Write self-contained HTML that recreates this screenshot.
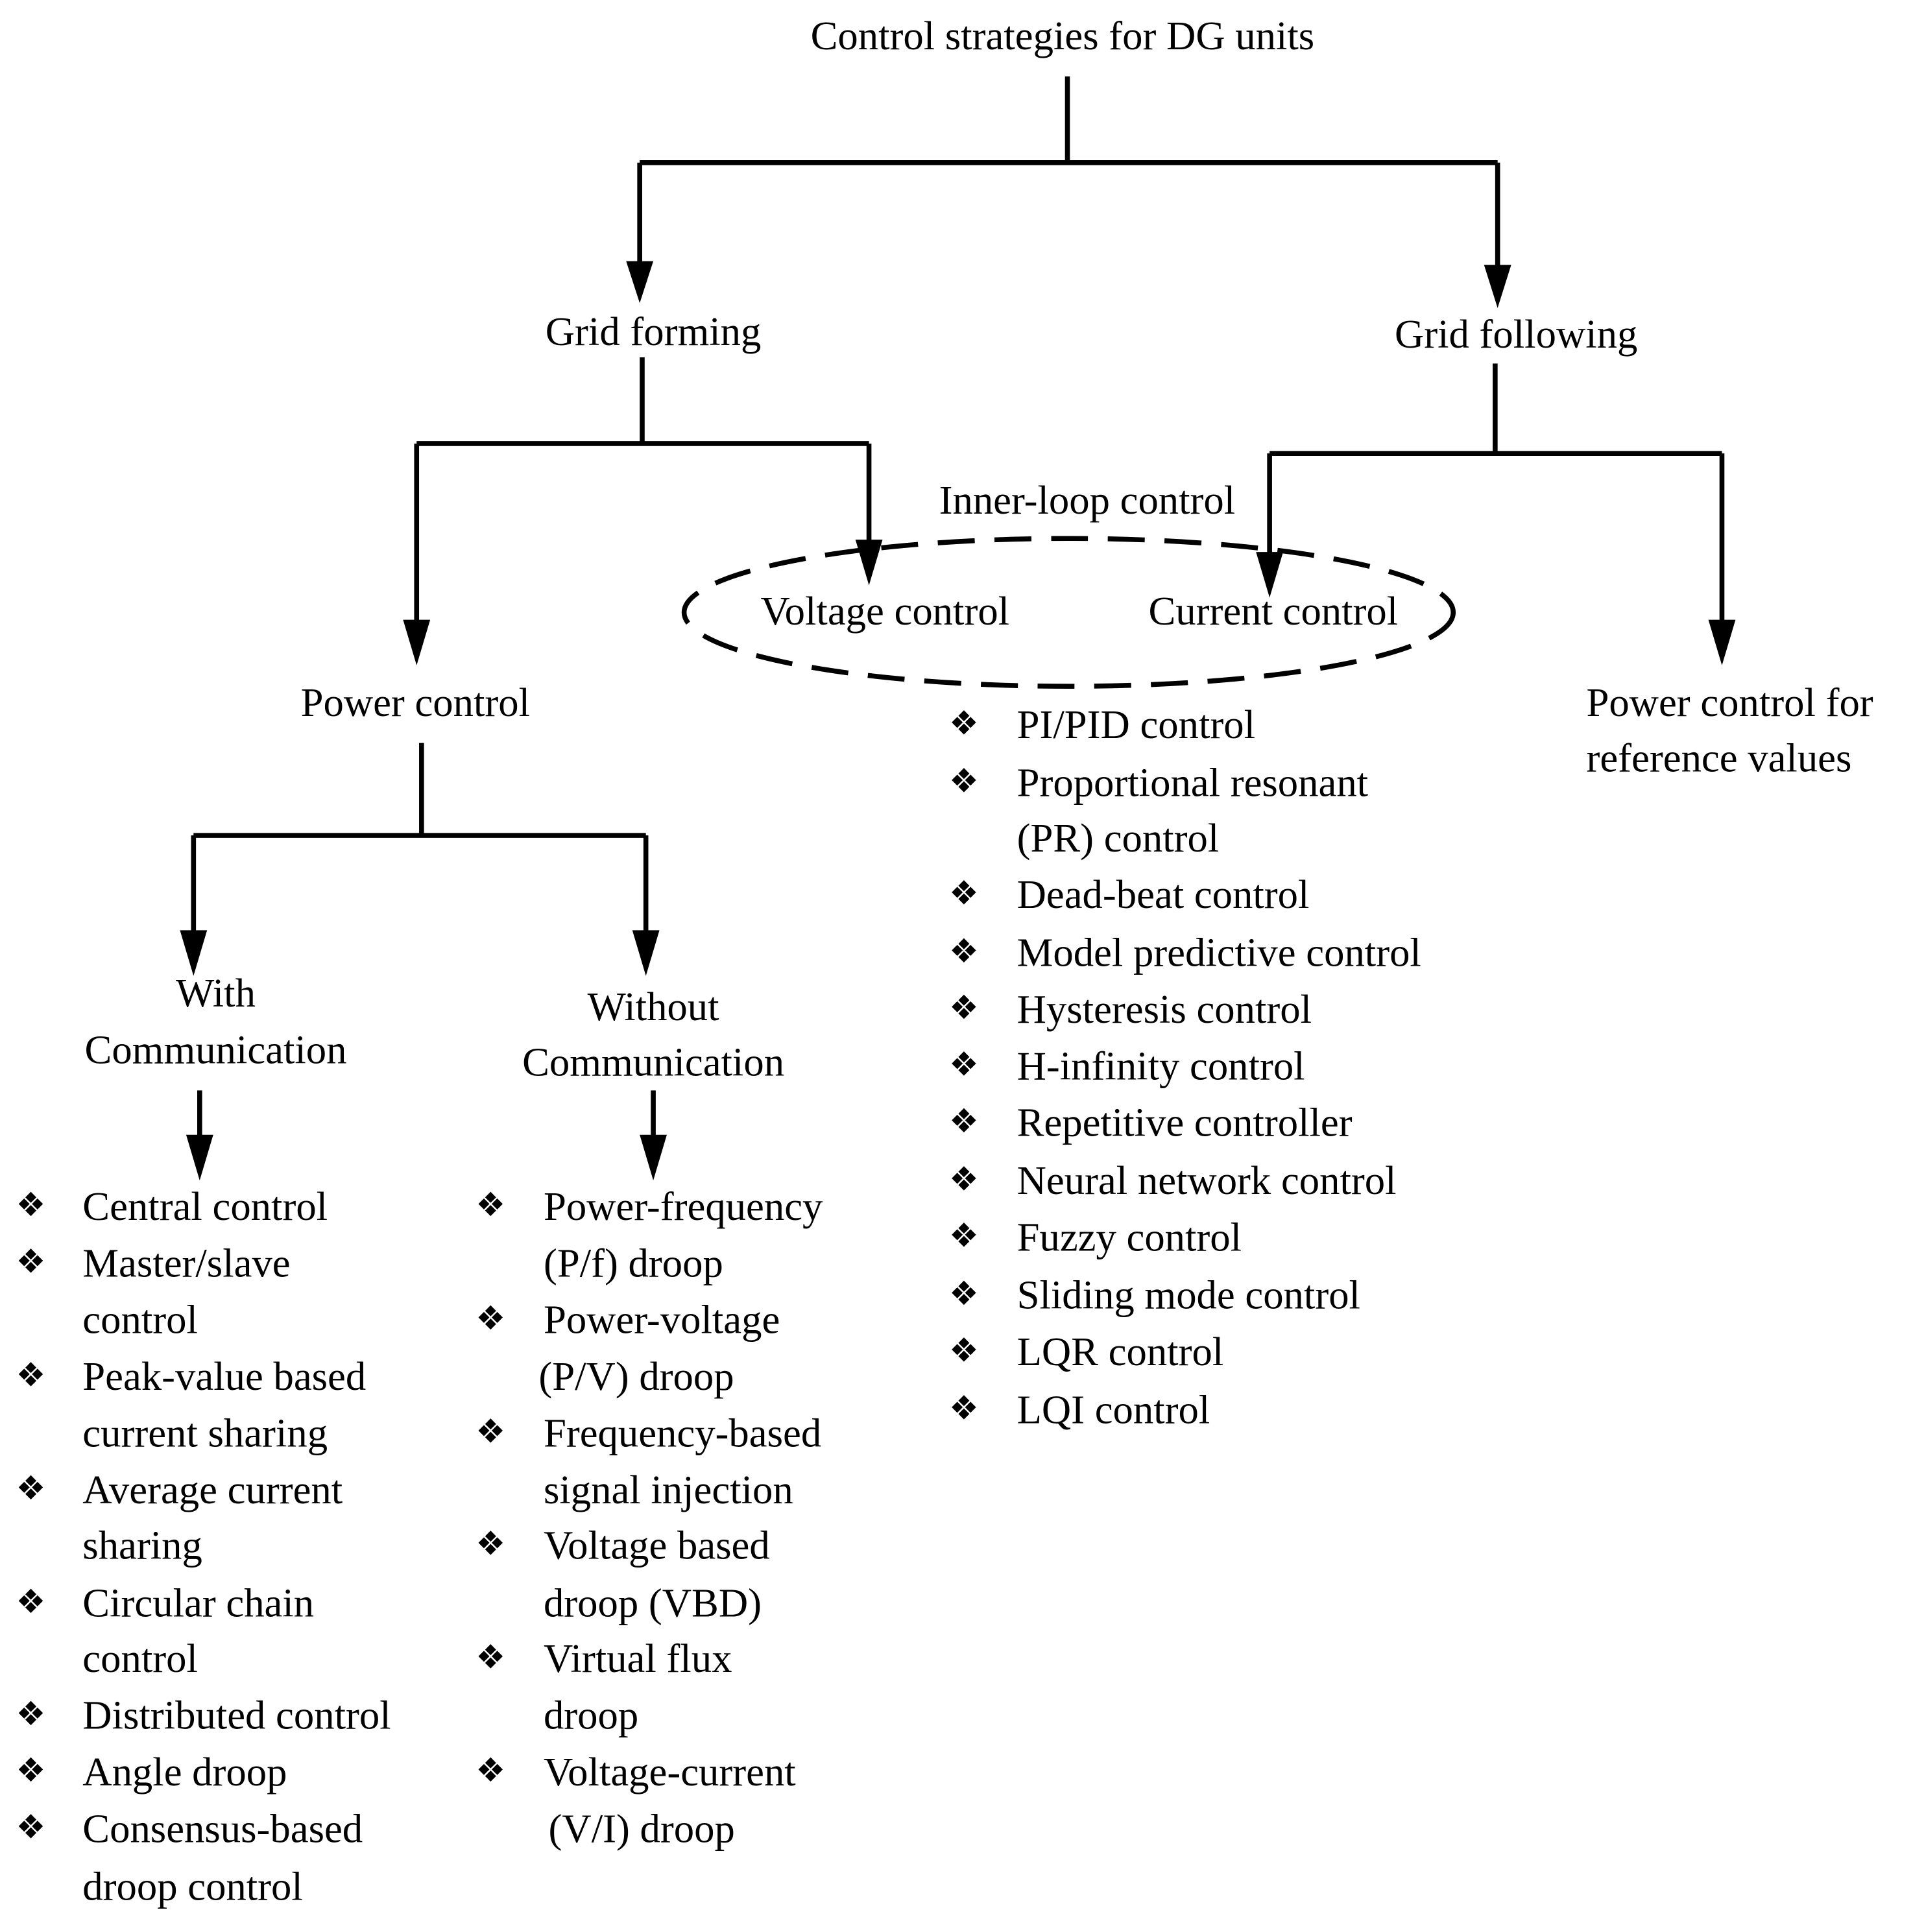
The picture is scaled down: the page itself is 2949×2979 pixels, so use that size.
<!DOCTYPE html>
<html><head><meta charset="utf-8"><style>
html,body{margin:0;padding:0;background:#fff}
svg{display:block}
text{font-family:"Liberation Serif",serif;font-size:33px;fill:#000}
.b{font-family:"DejaVu Sans",sans-serif;font-size:27px}
</style></head><body>
<svg width="2949" height="2979" viewBox="0 0 1552 1568" preserveAspectRatio="none" xmlns="http://www.w3.org/2000/svg">
<defs><marker id="a" markerWidth="6" markerHeight="9" refX="3" refY="9" orient="auto-start-reverse" markerUnits="userSpaceOnUse" viewBox="0 0 6 9"><path d="M0,0 L6,0 L3,9 Z"/></marker></defs>
<g stroke="#000" stroke-width="4" fill="none">
<path d="M866,62 V132 M519,132 H1215 M521,290 V360 M338,360 H705 M1213,295 V368 M1030,368 H1397 M342,603 V678 M157,678 H524"/>
</g>
<g fill="#000">
<path d="M517,132 V215 h4 V132Z"/><path d="M508,212 h22 l-11,34 z"/>
<path d="M1213,132 V218 h4 V132Z"/><path d="M1204,215 h22 l-11,35 z"/>
<path d="M336,360 V505 h4 V360Z"/><path d="M327,503 h22 l-11,37 z"/>
<path d="M703,360 V440 h4 V360Z"/><path d="M694,438 h22 l-11,37 z"/>
<path d="M1028,368 V450 h4 V368Z"/><path d="M1019,448 h22 l-11,37 z"/>
<path d="M1395,368 V505 h4 V368Z"/><path d="M1386,503 h22 l-11,37 z"/>
<path d="M155,678 V757 h4 V678Z"/><path d="M146,755 h22 l-11,37 z"/>
<path d="M522,678 V757 h4 V678Z"/><path d="M513,755 h22 l-11,37 z"/>
<path d="M160,885 V923 h4 V885Z"/><path d="M151,921 h22 l-11,37 z"/>
<path d="M528,885 V923 h4 V885Z"/><path d="M519,921 h22 l-11,37 z"/>
</g>
<ellipse cx="867" cy="497" rx="312" ry="60" fill="none" stroke="#000" stroke-width="4" stroke-dasharray="30,16"/>
<g text-anchor="middle">
<text x="862" y="40">Control strategies for DG units</text>
<text x="530" y="280">Grid forming</text>
<text x="1230" y="282">Grid following</text>
<text x="882" y="417">Inner-loop control</text>
<text x="718" y="507">Voltage control</text>
<text x="1033" y="507">Current control</text>
<text x="337" y="581">Power control</text>
<text x="175" y="817">With</text>
<text x="175" y="863">Communication</text>
<text x="530" y="828">Without</text>
<text x="530" y="873">Communication</text>
</g>
<text x="1287" y="581">Power control for</text>
<text x="1287" y="626">reference values</text>
<g class="b" text-anchor="middle">
<text class="b" x="25" y="987">❖</text><text class="b" x="25" y="1033">❖</text><text class="b" x="25" y="1125">❖</text><text class="b" x="25" y="1217">❖</text><text class="b" x="25" y="1309">❖</text><text class="b" x="25" y="1400">❖</text><text class="b" x="25" y="1446">❖</text><text class="b" x="25" y="1492">❖</text>
<text class="b" x="398" y="987">❖</text><text class="b" x="398" y="1079">❖</text><text class="b" x="398" y="1171">❖</text><text class="b" x="398" y="1262">❖</text><text class="b" x="398" y="1354">❖</text><text class="b" x="398" y="1446">❖</text>
<text class="b" x="782" y="596">❖</text><text class="b" x="782" y="643">❖</text><text class="b" x="782" y="734">❖</text><text class="b" x="782" y="781">❖</text><text class="b" x="782" y="827">❖</text><text class="b" x="782" y="873">❖</text><text class="b" x="782" y="919">❖</text><text class="b" x="782" y="966">❖</text><text class="b" x="782" y="1012">❖</text><text class="b" x="782" y="1059">❖</text><text class="b" x="782" y="1105">❖</text><text class="b" x="782" y="1152">❖</text>
</g>
<text x="67" y="990">Central control</text>
<text x="67" y="1036">Master/slave</text>
<text x="67" y="1082">control</text>
<text x="67" y="1128">Peak-value based</text>
<text x="67" y="1174">current sharing</text>
<text x="67" y="1220">Average current</text>
<text x="67" y="1265">sharing</text>
<text x="67" y="1312">Circular chain</text>
<text x="67" y="1357">control</text>
<text x="67" y="1403">Distributed control</text>
<text x="67" y="1449">Angle droop</text>
<text x="67" y="1495">Consensus-based</text>
<text x="67" y="1542">droop control</text>
<text x="441" y="990">Power-frequency</text>
<text x="441" y="1036">(P/f) droop</text>
<text x="441" y="1082">Power-voltage</text>
<text x="437" y="1128">(P/V) droop</text>
<text x="441" y="1174">Frequency-based</text>
<text x="441" y="1220">signal injection</text>
<text x="441" y="1265">Voltage based</text>
<text x="441" y="1312">droop (VBD)</text>
<text x="441" y="1357">Virtual flux</text>
<text x="441" y="1403">droop</text>
<text x="441" y="1449">Voltage-current</text>
<text x="445" y="1495">(V/I) droop</text>
<text x="825" y="599">PI/PID control</text>
<text x="825" y="646">Proportional resonant</text>
<text x="825" y="691">(PR) control</text>
<text x="825" y="737">Dead-beat control</text>
<text x="825" y="784">Model predictive control</text>
<text x="825" y="830">Hysteresis control</text>
<text x="825" y="876">H-infinity control</text>
<text x="825" y="922">Repetitive controller</text>
<text x="825" y="969">Neural network control</text>
<text x="825" y="1015">Fuzzy control</text>
<text x="825" y="1062">Sliding mode control</text>
<text x="825" y="1108">LQR control</text>
<text x="825" y="1155">LQI control</text>
</svg>
</body></html>
